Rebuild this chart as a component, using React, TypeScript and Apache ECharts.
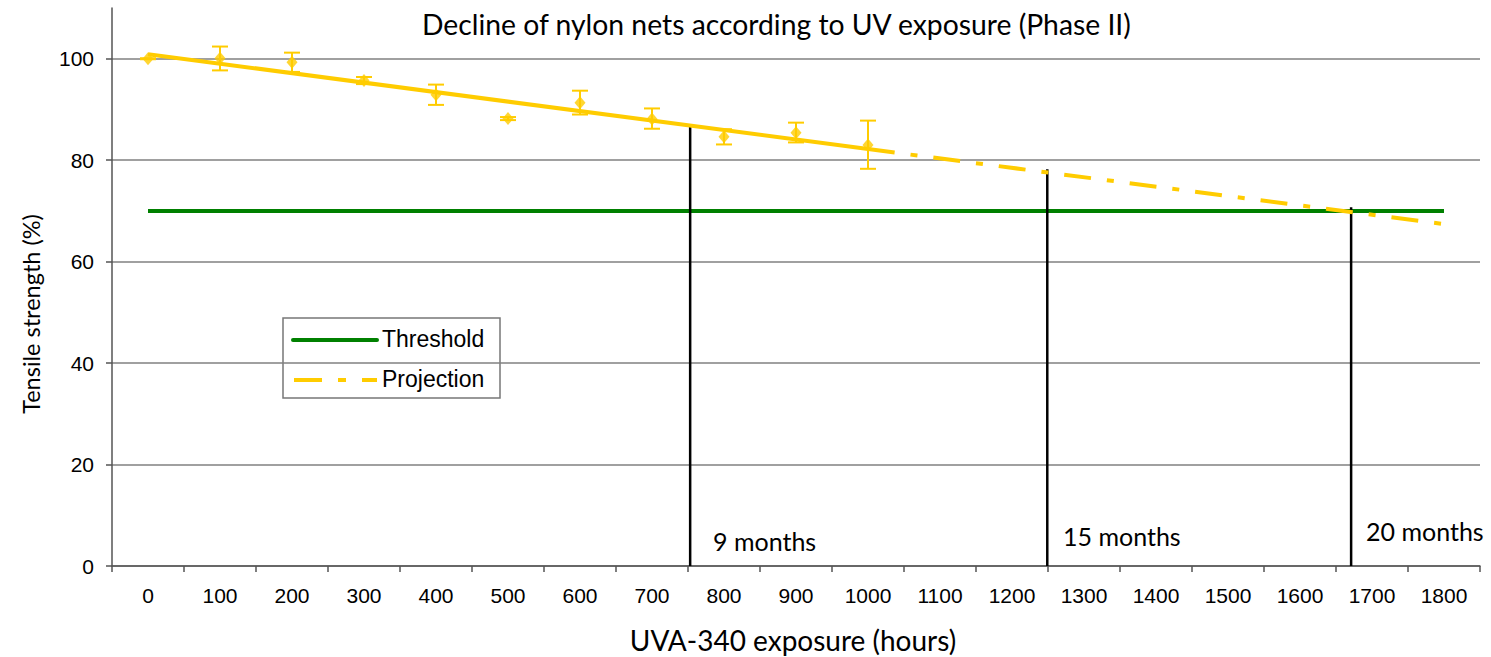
import React, { useEffect, useRef } from "react";
import * as echarts from "echarts";

// ---- data ----
const xCategories = ["0","100","200","300","400","500","600","700","800","900","1000","1100","1200","1300","1400","1500","1600","1700","1800"];
const hours = [0, 100, 200, 300, 400, 500, 600, 700, 800, 900, 1000];
const meanStrength = [100.0, 100.1, 99.3, 95.7, 92.9, 88.2, 91.3, 88.1, 84.6, 85.4, 83.0];
const upperStrength = [100.1, 102.4, 101.2, 96.4, 94.9, 88.5, 93.7, 90.2, 86.1, 87.4, 87.8];
const lowerStrength = [99.9, 97.7, 97.4, 95.0, 90.9, 87.9, 89.0, 86.2, 83.1, 83.5, 78.3];
const trendX = [0, 1037];
const trendY = [100.9, 81.5];
const projX = [1037, 1800];
const projY = [81.5, 67.4];
const thresholdX = [0, 1800];
const thresholdY = [70, 70];
const monthHours = [753, 1249, 1671];
const monthTop = [86.8, 78.2, 70.7];
const monthLabels = ["9 months", "15 months", "20 months"];

const YELLOW = "#FFCC00";
const GREEN = "#008000";
const MYRIAD = "Lato, 'Open Sans', sans-serif";
const ARIAL = "'Liberation Sans', Arial, sans-serif";

export default function App() {
  const ref = useRef<HTMLDivElement>(null);
  useEffect(() => {
    if (!ref.current) return;
    const chart = echarts.init(ref.current, undefined, { renderer: "svg" });

    const verticalSeries = monthHours.map((h, i) => ({
      type: "line",
      xAxisIndex: 1,
      data: [[h, 0], [h, monthTop[i]]],
      symbol: "none",
      lineStyle: { color: "#000", width: 2.5 },
      z: 4,
      silent: true,
    }));

    const option: any = {
      animation: false,
      backgroundColor: "#fff",
      grid: { left: 112, right: 11, top: 8, bottom: 91, containLabel: false },
      xAxis: [
        {
          type: "category",
          data: xCategories,
          boundaryGap: true,
          axisLine: { onZero: false, lineStyle: { color: "#555", width: 1.5 } },
          axisTick: { show: true, interval: 0, length: 6, lineStyle: { color: "#555", width: 1.5 } },
          axisLabel: { interval: 0, margin: 19, color: "#000", fontSize: 21, fontFamily: ARIAL },
          splitLine: { show: false },
        },
        {
          type: "value",
          min: -50,
          max: 1850,
          show: false,
          axisLine: { onZero: false },
          splitLine: { show: false },
        },
      ],
      yAxis: {
        type: "value",
        min: 0,
        max: 110,
        interval: 20,
        axisLine: { show: true, onZero: false, lineStyle: { color: "#555", width: 1.5 } },
        axisTick: { show: true, length: 6, lineStyle: { color: "#555", width: 1.5 } },
        axisLabel: {
          margin: 18,
          color: "#000",
          fontSize: 21,
          fontFamily: ARIAL,
          showMaxLabel: false,
          formatter: (v: number) => (v > 100 ? "" : String(v)),
        },
        splitLine: {
          show: true,
          lineStyle: {
            color: ["#808080", "#808080", "#808080", "#808080", "#808080", "#808080", "rgba(0,0,0,0)"],
            width: 1.5,
          },
        },
      },
      series: [
        {
          name: "Threshold",
          type: "line",
          xAxisIndex: 1,
          data: thresholdX.map((x, i) => [x, thresholdY[i]]),
          symbol: "none",
          lineStyle: { color: GREEN, width: 4 },
          z: 3,
        },
        ...verticalSeries,
        {
          type: "custom",
          xAxisIndex: 1,
          data: hours.map((h, i) => [h, lowerStrength[i], upperStrength[i]]),
          encode: { x: 0, y: [1, 2] },
          z: 5,
          renderItem: (params: any, api: any) => {
            const x = api.value(0);
            const lo = api.coord([x, api.value(1)]);
            const hi = api.coord([x, api.value(2)]);
            const w = 8;
            const style = { stroke: YELLOW, lineWidth: 2 };
            return {
              type: "group",
              children: [
                { type: "line", shape: { x1: lo[0], y1: lo[1], x2: hi[0], y2: hi[1] }, style },
                { type: "line", shape: { x1: lo[0] - w, y1: lo[1], x2: lo[0] + w, y2: lo[1] }, style },
                { type: "line", shape: { x1: hi[0] - w, y1: hi[1], x2: hi[0] + w, y2: hi[1] }, style },
              ],
            };
          },
        },
        {
          type: "scatter",
          xAxisIndex: 1,
          data: hours.map((h, i) => [h, meanStrength[i]]),
          symbol: "diamond",
          symbolSize: [11, 13],
          itemStyle: { color: YELLOW },
          z: 6,
        },
        {
          type: "line",
          xAxisIndex: 1,
          data: trendX.map((x, i) => [x, trendY[i]]),
          symbol: "none",
          lineStyle: { color: YELLOW, width: 4 },
          z: 6,
        },
        {
          name: "Projection",
          type: "line",
          xAxisIndex: 1,
          data: projX.map((x, i) => [x, projY[i]]),
          symbol: "none",
          lineStyle: { color: YELLOW, width: 4, type: [27, 16, 7, 16], dashOffset: 27 },
          z: 6,
        },
      ],
      graphic: [
        {
          type: "text",
          left: 422,
          top: 10,
          style: { text: "Decline of nylon nets according to UV exposure (Phase II)", fontSize: 28.3, fontFamily: MYRIAD, fill: "#000" },
        },
        {
          type: "text",
          x: 31,
          y: 314,
          rotation: Math.PI / 2,
          style: { text: "Tensile strength (%)", fontSize: 23.5, fontFamily: MYRIAD, fill: "#000", align: "center", verticalAlign: "middle" },
        },
        {
          type: "text",
          x: 793,
          y: 640,
          style: { text: "UVA-340 exposure (hours)", fontSize: 28, fontFamily: MYRIAD, fill: "#000", align: "center", verticalAlign: "middle" },
        },
        {
          type: "text",
          x: 713,
          y: 541,
          style: { text: monthLabels[0], fontSize: 25, fontFamily: MYRIAD, fill: "#000", align: "left", verticalAlign: "middle" },
        },
        {
          type: "text",
          x: 1063,
          y: 536,
          style: { text: monthLabels[1], fontSize: 25, fontFamily: MYRIAD, fill: "#000", align: "left", verticalAlign: "middle" },
        },
        {
          type: "text",
          x: 1366,
          y: 531,
          style: { text: monthLabels[2], fontSize: 25, fontFamily: MYRIAD, fill: "#000", align: "left", verticalAlign: "middle" },
        },
        {
          type: "group",
          z: 100,
          children: [
            { type: "rect", shape: { x: 283, y: 318, width: 217, height: 80 }, style: { fill: "#fff", stroke: "#777", lineWidth: 1.5 } },
            { type: "line", shape: { x1: 293, y1: 340, x2: 377, y2: 340 }, style: { stroke: GREEN, lineWidth: 4, lineCap: "round" } },
            { type: "line", shape: { x1: 294, y1: 380, x2: 377, y2: 380 }, style: { stroke: YELLOW, lineWidth: 4, lineDash: [28, 16, 8, 16] } },
            { type: "text", x: 382, y: 339, style: { text: "Threshold", fontSize: 23, fontFamily: ARIAL, fill: "#000", verticalAlign: "middle", align: "left" } },
            { type: "text", x: 382, y: 379, style: { text: "Projection", fontSize: 23, fontFamily: ARIAL, fill: "#000", verticalAlign: "middle", align: "left" } },
          ],
        },
      ],
    };
    chart.setOption(option);
    return () => chart.dispose();
  }, []);
  return <div ref={ref} style={{ position: "absolute", left: 0, top: 0, width: 1491, height: 657 }} />;
}
